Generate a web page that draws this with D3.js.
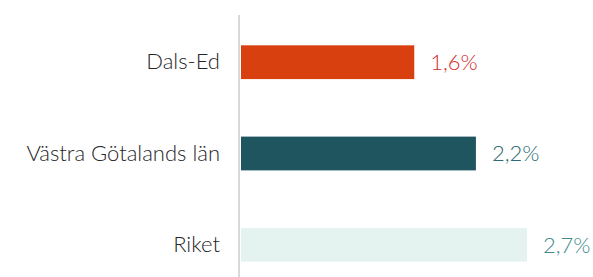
<!DOCTYPE html>
<html>
<head>
<meta charset="utf-8">
<script src="https://cdn.jsdelivr.net/npm/d3@7"></script>
<style>
  body { margin: 0; background: #fff; }
  text { font-family: Lato, "Open Sans", sans-serif; font-weight: 300; }
</style>
</head>
<body>
<div id="chart"></div>
<script>
// categories and values
var categories = ["Dals-Ed", "Västra Götalands län", "Riket"];
var values = [1.63, 2.21, 2.69];
var valueLabels = ["1,6%", "2,2%", "2,7%"];
var barColors = ["#d8400f", "#1f555e", "#e4f3f0"];
var labelColors = ["#d42b2b", "#2e6b72", "#418b8c"];

var svgWidth = 593;
var svgHeight = 277;

var margin = { top: 17, right: 0, bottom: 0, left: 241 };

var svg = d3.select("#chart")
   .append("svg")
   .attr("width", svgWidth)
   .attr("height", svgHeight);

var chartGroup = svg.append("g")
   .attr("transform", `translate(${margin.left}, ${margin.top})`);

// scales
var xScale = d3.scaleLinear()
   .domain([0, 2.7])
   .range([0, 287]);

var yScale = d3.scaleBand()
   .domain(categories)
   .range([0, 273])
   .paddingInner(0.63)
   .paddingOuter(0.31);

// bars
chartGroup.selectAll("rect")
   .data(categories)
   .enter()
   .append("rect")
   .attr("x", 0)
   .attr("y", d => yScale(d))
   .attr("width", (d, i) => xScale(values[i]))
   .attr("height", yScale.bandwidth())
   .attr("fill", (d, i) => barColors[i]);

// value labels
chartGroup.selectAll(".value")
   .data(categories)
   .enter()
   .append("text")
   .attr("class", "value")
   .attr("x", (d, i) => xScale(values[i]) + 16)
   .attr("y", d => yScale(d) + yScale.bandwidth() / 2)
   .attr("dy", "0.36em")
   .attr("font-size", "22px")
   .attr("fill", (d, i) => labelColors[i])
   .text((d, i) => valueLabels[i]);

// left axis: line + category labels
var leftAxis = d3.axisLeft(yScale).tickSize(0).tickPadding(19);
var yAxis = svg.append("g")
   .attr("transform", `translate(${margin.left - 2}, ${margin.top})`)
   .call(leftAxis);

yAxis.select(".domain")
   .attr("stroke", "#d9d9d9")
   .attr("stroke-width", 2)
   .attr("d", "M0,-2V260");

yAxis.selectAll("text")
   .attr("font-size", "22px")
   .attr("fill", "#262626")
   .attr("font-family", "Lato, 'Open Sans', sans-serif");
</script>
</body>
</html>
